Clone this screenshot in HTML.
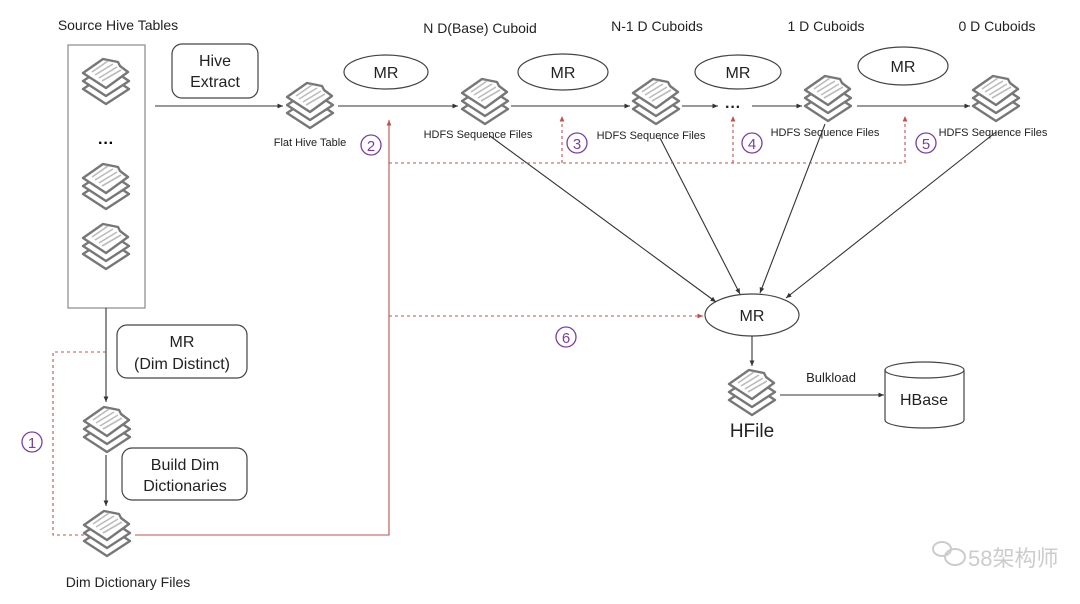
<!DOCTYPE html>
<html><head><meta charset="utf-8"><style>
html,body{margin:0;padding:0;background:#fff;}
svg{display:block;font-family:"Liberation Sans","Noto Sans CJK SC",sans-serif;}
</style></head><body>
<svg width="1080" height="604" viewBox="0 0 1080 604" xmlns="http://www.w3.org/2000/svg">
<defs>
<marker id="a" markerWidth="6" markerHeight="6" refX="5" refY="3" orient="auto"><path d="M0,0.8 L5,3 L0,5.2z" fill="#333"/></marker>
<marker id="r" markerWidth="6" markerHeight="6" refX="5" refY="3" orient="auto"><path d="M0,0.8 L5,3 L0,5.2z" fill="#c0504d"/></marker>
<g id="f" fill="#fff" stroke="#777" stroke-width="2.4" stroke-linejoin="round">
<path d="M-23,9 L0,-6 L23,9 L0,24z"/>
<path d="M-23,1 L0,-14 L23,1 L0,16z"/>
<path d="M-23,-7 L-3,-21 L12,-18 L14,-14 L22,-8 L0,8z"/>
<path d="M-14,-8 L2,-19 M-11,-5 L7,-16 M-7,-2 L11,-13 M-4,1 L15,-10" stroke="#bbb" stroke-width="1.6"/>
</g>
</defs>
<g font-size="14" fill="#222">
<text x="118" y="30" text-anchor="middle">Source Hive Tables</text>
<text x="480" y="33" text-anchor="middle">N D(Base) Cuboid</text>
<text x="657" y="31" text-anchor="middle">N-1 D Cuboids</text>
<text x="826" y="31" text-anchor="middle">1 D Cuboids</text>
<text x="997" y="31" text-anchor="middle">0 D Cuboids</text>
<text x="128" y="587" text-anchor="middle">Dim Dictionary  Files</text>
</g>
<rect x="68" y="45" width="77" height="263" fill="none" stroke="#888" stroke-width="1.2"/>
<use href="#f" x="106" y="80"/>
<text x="106" y="148" text-anchor="middle" font-size="16" font-weight="bold">···</text>
<use href="#f" x="106" y="185"/>
<use href="#f" x="106" y="245"/>
<use href="#f" x="310" y="104"/>
<use href="#f" x="485" y="100"/>
<use href="#f" x="656" y="100"/>
<use href="#f" x="828" y="97"/>
<use href="#f" x="996" y="97"/>
<use href="#f" x="107" y="428"/>
<use href="#f" x="107" y="532"/>
<use href="#f" x="752" y="391"/>
<g font-size="11" fill="#222" text-anchor="middle">
<text x="310" y="146">Flat Hive Table</text>
<text x="478" y="138">HDFS Sequence Files</text>
<text x="651" y="139">HDFS Sequence Files</text>
<text x="825" y="136">HDFS Sequence Files</text>
<text x="993" y="136">HDFS Sequence Files</text>
</g>
<g fill="none" stroke="#444" stroke-width="1.2">
<rect x="172" y="44" width="86" height="54" rx="10"/>
<rect x="117" y="325" width="130" height="53" rx="10"/>
<rect x="122" y="448" width="125" height="52" rx="10"/>
<ellipse cx="386" cy="72" rx="42" ry="17"/>
<ellipse cx="563" cy="72" rx="45" ry="18"/>
<ellipse cx="738" cy="72" rx="43" ry="17"/>
<ellipse cx="903" cy="66" rx="45" ry="19"/>
<ellipse cx="752" cy="315" rx="47" ry="21"/>
<path d="M885,370 L885,420 A39.5,8 0 0 0 964,420 L964,370"/>
<ellipse cx="924.5" cy="370" rx="39.5" ry="8"/>
</g>
<g font-size="16" fill="#222" text-anchor="middle">
<text x="215" y="66">Hive</text><text x="215" y="87">Extract</text>
<text x="182" y="347">MR</text><text x="182" y="369">(Dim Distinct)</text>
<text x="185" y="470">Build Dim</text><text x="185" y="491">Dictionaries</text>
<text x="386" y="78">MR</text><text x="563" y="78">MR</text><text x="738" y="78">MR</text><text x="903" y="72">MR</text>
<text x="752" y="321">MR</text>
<text x="924" y="405">HBase</text>
<text x="752" y="437" font-size="19">HFile</text>
<text x="831" y="382" font-size="13">Bulkload</text>
<text x="733" y="112" font-size="16" font-weight="bold">···</text>
</g>
<g stroke="#333" stroke-width="1.1" fill="none" marker-end="url(#a)">
<path d="M155,106 L283,106"/>
<path d="M338,106 L458,106"/>
<path d="M511,106 L630,106"/>
<path d="M682,106 L718,106"/>
<path d="M752,106 L802,106"/>
<path d="M857,106 L970,106"/>
<path d="M106,308 L106,402"/>
<path d="M106,455 L106,506"/>
<path d="M490,136 L716,302"/>
<path d="M660,138 L740,294"/>
<path d="M825,124 L760,293"/>
<path d="M996,132 L786,298"/>
<path d="M752,336 L752,366"/>
<path d="M780,395 L884,395"/>
</g>
<g stroke="#c0504d" stroke-width="1.1" fill="none">
<path d="M135,535 L389,535 L389,120" marker-end="url(#r)"/>
<g stroke-dasharray="3,3">
<path d="M389,163 L905,163"/>
<path d="M562,163 L562,116" marker-end="url(#r)"/>
<path d="M733,163 L733,116" marker-end="url(#r)"/>
<path d="M905,163 L905,116" marker-end="url(#r)"/>
<path d="M389,316 L703,316" marker-end="url(#r)"/>
<path d="M106,352 L53,352 L53,535 L84,535"/>
</g>
</g>
<g fill="none" stroke="#7a3ea0" stroke-width="1.3">
<circle cx="32" cy="442" r="10"/><circle cx="371" cy="145" r="10"/><circle cx="577" cy="143" r="10"/>
<circle cx="752" cy="143" r="10"/><circle cx="926" cy="143" r="10"/><circle cx="566" cy="337" r="10"/>
</g>
<g fill="#7a3ea0" font-size="15" text-anchor="middle">
<text x="32" y="448">1</text>
<text x="371" y="151">2</text>
<text x="577" y="149">3</text>
<text x="752" y="149">4</text>
<text x="926" y="149">5</text>
<text x="566" y="343">6</text>
</g>
<g fill="none" stroke="#ccc" stroke-width="2">
<ellipse cx="942" cy="549" rx="9" ry="7"/><ellipse cx="955" cy="557" rx="10" ry="8"/>
</g>
<text x="968" y="566" font-size="22" fill="#ccc">58架构师</text>
</svg>
</body></html>
